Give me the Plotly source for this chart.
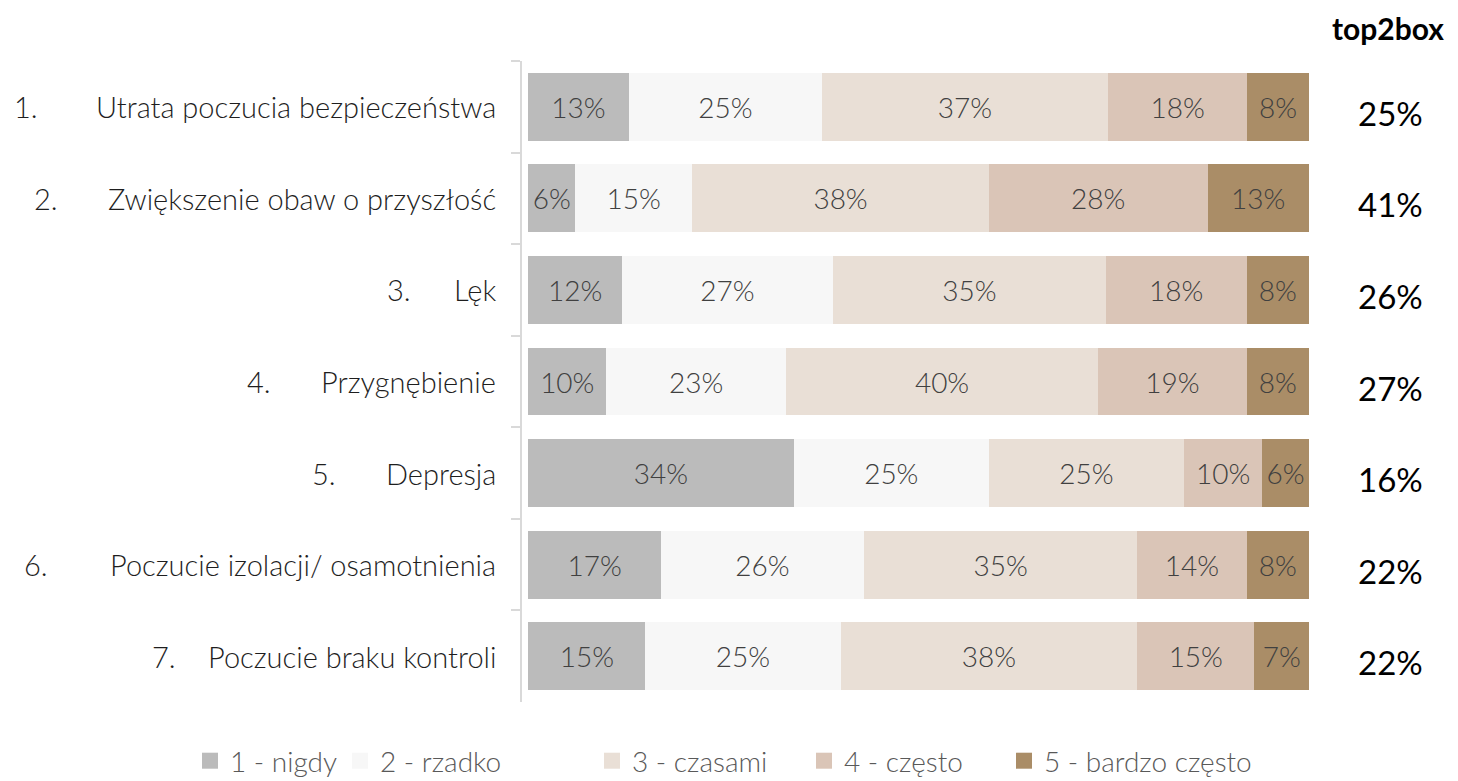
import plotly.graph_objects as go

categories = [
    "Utrata poczucia bezpieczeństwa",
    "Zwiększenie obaw o przyszłość",
    "Lęk",
    "Przygnębienie",
    "Depresja",
    "Poczucie izolacji/ osamotnienia",
    "Poczucie braku kontroli",
]
numbers = ["1.", "2.", "3.", "4.", "5.", "6.", "7."]
series_names = ["1 - nigdy", "2 - rzadko", "3 - czasami", "4 - często", "5 - bardzo często"]
s1 = [13, 6, 12, 10, 34, 17, 15]
s2 = [25, 15, 27, 23, 25, 26, 25]
s3 = [37, 38, 35, 40, 25, 35, 38]
s4 = [18, 28, 18, 19, 10, 14, 15]
s5 = [8, 13, 8, 8, 6, 8, 7]
top2box = [25, 41, 26, 27, 16, 22, 22]

colors = ["#BBBBBB", "#F7F7F7", "#E9DFD6", "#DAC5B7", "#AA8D67"]
FONT = "Lato"

# pixel layout (page coords; page body has an 8px margin)
OFF = 8
W, H = 1458 - OFF, 781 - OFF
L = 522 - OFF
R = W - (1309 - OFF)
T = 61 - OFF
B = H - (702 - OFF)
plot_w = W - L - R
plot_h = H - T - B

def px_x(px):
    return (px - OFF - L) / plot_w

def px_y(py):
    return 1 - (py - OFF - T) / plot_h

def cont_y(py):
    return 1 - (py - OFF) / H

fig = go.Figure()
for name, vals, col in zip(series_names, [s1, s2, s3, s4, s5], colors):
    fig.add_trace(go.Bar(
        y=categories, x=vals, orientation="h", name=name,
        marker=dict(color=col, line=dict(width=0)),
        text=[f"{v}%" for v in vals],
        textposition="inside", insidetextanchor="middle",
        textfont=dict(family=FONT, size=28, color="#404040", weight=300),
        constraintext="none", showlegend=False,
        hoverinfo="skip",
    ))

# legend entries (separate legends to match positions)
legend_swatch_x = [208, 358, 610, 823, 1023]
legend_adjust = [-18, -18, -18, -19, -19]
legend_layouts = {}
for i, (name, col) in enumerate(zip(series_names, colors)):
    lname = "legend" if i == 0 else f"legend{i + 1}"
    fig.add_trace(go.Scatter(
        x=[None], y=[None], mode="markers", name=name,
        marker=dict(symbol="square", size=17, color=col),
        legend=lname, showlegend=True, hoverinfo="skip",
    ))
    legend_layouts[lname] = dict(
        x=px_x(legend_swatch_x[i] + legend_adjust[i]), xanchor="left",
        y=cont_y(761), yanchor="middle", yref="container",
        font=dict(family=FONT, size=28, color="#595959", weight=300),
        bgcolor="rgba(0,0,0,0)", itemwidth=30, tracegroupgap=0,
    )

annotations = []
num_x = [12, 32, 385, 245, 310, 22, 150]
for i, (cat, num) in enumerate(zip(categories, numbers)):
    annotations.append(dict(
        x=px_x(498), y=cat, xref="paper", yref="y", text=cat,
        xanchor="right", yanchor="middle", showarrow=False,
        font=dict(family=FONT, size=29, color="#1E1E1E", weight=300),
    ))
    annotations.append(dict(
        x=px_x(num_x[i]), y=cat, xref="paper", yref="y", text=num,
        xanchor="left", yanchor="middle", showarrow=False,
        font=dict(family=FONT, size=29, color="#1E1E1E", weight=300),
    ))
    annotations.append(dict(
        x=px_x(1390), y=cat, xref="paper", yref="y", text=f"{top2box[i]}%",
        xanchor="center", yanchor="middle", yshift=-6, showarrow=False,
        font=dict(family=FONT, size=33, color="#000000"),
    ))
annotations.append(dict(
    x=px_x(1388), y=px_y(8), xref="paper", yref="paper",
    text="<b>top2box</b>", xanchor="center", yanchor="top", showarrow=False,
    font=dict(family=FONT, size=30, color="#000000"),
))

fig.update_layout(
    barmode="stack", barnorm="percent", bargap=0.26,
    width=W, height=H,
    margin=dict(l=L, r=R, t=T, b=B, autoexpand=False),
    plot_bgcolor="white", paper_bgcolor="white",
    xaxis=dict(range=[-0.8, 100], visible=False, fixedrange=True),
    yaxis=dict(
        autorange="reversed", showticklabels=False, showgrid=False,
        showline=True, linecolor="#D9D9D9", linewidth=2,
        ticks="outside", tickson="boundaries", ticklen=9, tickcolor="#D9D9D9", tickwidth=2,
        zeroline=False,
    ),
    annotations=annotations,
    showlegend=True,
    **legend_layouts,
)

fig.write_html("out.html")
